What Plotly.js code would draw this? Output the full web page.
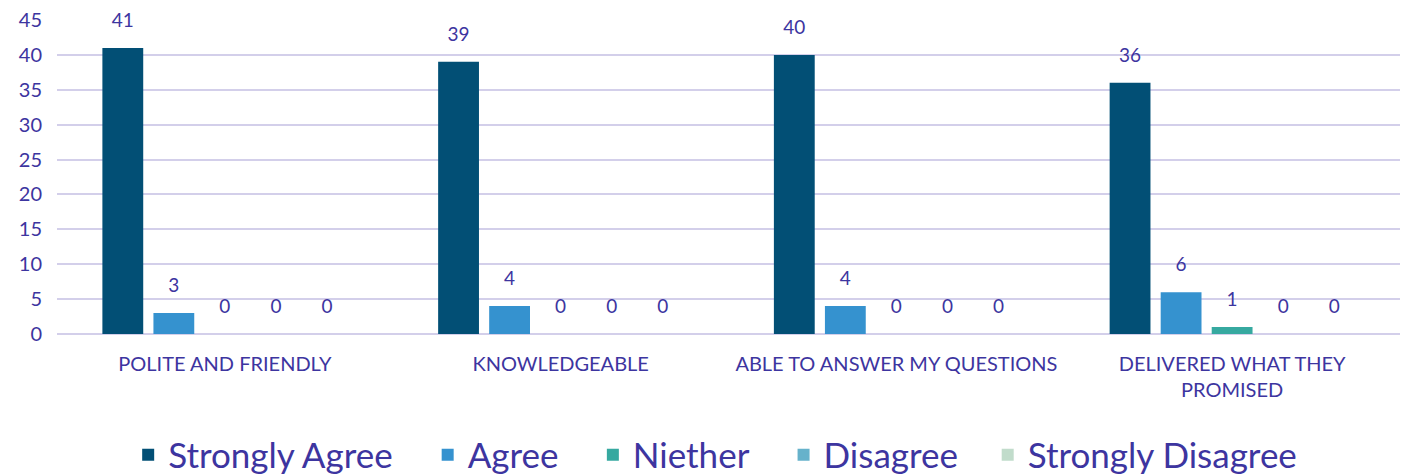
<!DOCTYPE html>
<html>
<head>
<meta charset="utf-8">
<script src="https://cdn.plot.ly/plotly-3.0.1.min.js"></script>
<style>html,body{margin:0;padding:0;background:#fff;}#chart{width:1407px;height:474px;}</style>
</head>
<body>
<div id="chart"></div>
<script>
const categories = ["POLITE AND FRIENDLY", "KNOWLEDGEABLE", "ABLE TO ANSWER MY QUESTIONS", "DELIVERED WHAT THEY<br>PROMISED"];
const seriesNames = ["Strongly Agree", "Agree", "Niether", "Disagree", "Strongly Disagree"];
const stronglyAgree = [41, 39, 40, 36];
const agree = [3, 4, 4, 6];
const neither = [0, 0, 0, 1];
const disagree = [0, 0, 0, 0];
const stronglyDisagree = [0, 0, 0, 0];
const seriesValues = [stronglyAgree, agree, neither, disagree, stronglyDisagree];
const colors = ["#024F75", "#3592CF", "#36A9A0", "#66B2CB", "#C1DCCB"];
const textColor = "#3D35A0";
const fontFamily = "Lato, 'Open Sans', sans-serif";
const legendX = [0.053, 0.276, 0.399, 0.541, 0.693];
const legendIds = ["legend", "legend2", "legend3", "legend4", "legend5"];

const barTraces = seriesNames.map((name, i) => ({
  type: "bar",
  name: name,
  x: categories,
  y: seriesValues[i],
  marker: {color: colors[i]},
  legend: legendIds[i],
  hoverinfo: "skip"
}));

const labelTraces = seriesNames.map((name, i) => ({
  type: "scatter",
  mode: "markers+text",
  name: name + " labels",
  x: categories,
  y: seriesValues[i],
  text: seriesValues[i].map(String),
  textposition: "top center",
  textfont: {family: fontFamily, size: 19, color: textColor},
  marker: {size: 24, opacity: 0},
  cliponaxis: false,
  showlegend: false,
  hoverinfo: "skip"
}));

const layout = {
  width: 1407, height: 474,
  margin: {l: 57, r: 7, t: 20, b: 140, autoexpand: false},
  paper_bgcolor: "#fff", plot_bgcolor: "#fff",
  barmode: "group",
  bargap: 0.24,
  bargroupgap: 0.2,
  scattermode: "group",
  scattergap: 0.24,
  font: {family: fontFamily, color: textColor},
  xaxis: {
    tickfont: {family: fontFamily, size: 20, color: textColor},
    ticks: "", showline: false, showgrid: false, ticklabelstandoff: 16,
    automargin: false
  },
  yaxis: {
    range: [0, 45], dtick: 5,
    tickfont: {family: fontFamily, size: 20, color: textColor},
    gridcolor: "#D3CFEA", gridwidth: 2,
    zeroline: true, zerolinecolor: "#D3CFEA", zerolinewidth: 2,
    showline: false, ticks: "", ticklabelstandoff: 14, automargin: false
  },
  showlegend: true
};
legendIds.forEach((id, i) => {
  layout[id] = {
    orientation: "h", x: legendX[i], xanchor: "left", y: -0.385, yanchor: "middle",
    font: {family: fontFamily, size: 35, color: textColor},
    bgcolor: "rgba(0,0,0,0)", itemclick: false
  };
});

Plotly.newPlot("chart", barTraces.concat(labelTraces), layout, {displayModeBar: false, staticPlot: true});
</script>
</body>
</html>
